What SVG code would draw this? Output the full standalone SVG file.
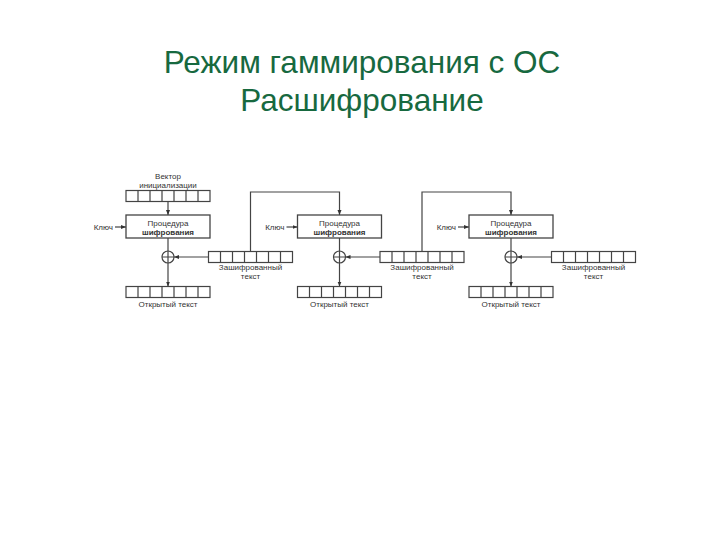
<svg xmlns="http://www.w3.org/2000/svg" xmlns:xlink="http://www.w3.org/1999/xlink" width="720" height="540" viewBox="0 0 720 540">
<style>
.title{font-family:"Liberation Sans",Arial,sans-serif;font-size:31.5px;fill:#17693f;text-anchor:middle}
.lbl{font-family:"Liberation Sans",Arial,sans-serif;font-size:8px;fill:#333;text-anchor:middle}
.bold{font-weight:bold}
.box{fill:#fff;stroke:#444;stroke-width:1.3}
.ln{fill:none;stroke:#444;stroke-width:1.2}
.cell{fill:#fff;stroke:#444;stroke-width:1.2}
</style>
<defs>
<marker id="ah" viewBox="0 0 10 10" refX="10" refY="5" markerWidth="5" markerHeight="5" orient="auto" markerUnits="userSpaceOnUse">
<path d="M0,1 L10,5 L0,9 Z" fill="#333"/>
</marker>
<g id="reg">
<rect class="cell" x="0" y="0" width="84" height="11"/>
<path class="ln" d="M12,0V11M24,0V11M36,0V11M48,0V11M60,0V11M72,0V11"/>
</g>
<g id="xor">
<circle cx="0" cy="0" r="6" fill="#fff" stroke="#444" stroke-width="1.2"/>
<path class="ln" d="M-6,0H6M0,-6V6"/>
</g>
</defs>
<rect width="720" height="540" fill="#fff"/>
<g id="title">
<text class="title" x="362" y="73">Режим гаммирования с ОС</text>
<text class="title" x="362" y="111">Расшифрование</text>
</g>
<g id="connectors">
<line class="ln" x1="168" y1="201.5" x2="168" y2="215" marker-end="url(#ah)"/>
<line class="ln" x1="115" y1="227" x2="126" y2="227" marker-end="url(#ah)"/>
<line class="ln" x1="168" y1="238" x2="168" y2="251"/>
<line class="ln" x1="208.5" y1="257" x2="174" y2="257" marker-end="url(#ah)"/>
<line class="ln" x1="168" y1="263" x2="168" y2="286.5" marker-end="url(#ah)"/>
<path class="ln" d="M250.5,251V192H339.5V215" marker-end="url(#ah)"/>
<line class="ln" x1="286.5" y1="227" x2="297.5" y2="227" marker-end="url(#ah)"/>
<line class="ln" x1="339.5" y1="238" x2="339.5" y2="251"/>
<line class="ln" x1="380" y1="257" x2="345.5" y2="257" marker-end="url(#ah)"/>
<line class="ln" x1="339.5" y1="263" x2="339.5" y2="286.5" marker-end="url(#ah)"/>
<path class="ln" d="M422,251V192H511V215" marker-end="url(#ah)"/>
<line class="ln" x1="458" y1="227" x2="469" y2="227" marker-end="url(#ah)"/>
<line class="ln" x1="511" y1="238" x2="511" y2="251"/>
<line class="ln" x1="551.5" y1="257" x2="517" y2="257" marker-end="url(#ah)"/>
<line class="ln" x1="511" y1="263" x2="511" y2="286.5" marker-end="url(#ah)"/>
</g>
<g id="iv">
<text class="lbl" x="168" y="179">Вектор</text>
<text class="lbl" x="168" y="188">инициализации</text>
<use xlink:href="#reg" x="126" y="190.5"/>
</g>
<g id="key1"><text class="lbl" x="113" y="230" style="text-anchor:end">Ключ</text></g>
<g id="enc1">
<rect class="box" x="126" y="215" width="84" height="23"/>
<text class="lbl" x="168" y="226">Процедура</text>
<text class="lbl bold" x="168" y="235">шифрования</text>
</g>
<g id="xor1"><use xlink:href="#xor" x="168" y="257"/></g>
<g id="ct1">
<use xlink:href="#reg" x="208.5" y="251.5"/>
<text class="lbl" x="250.5" y="270">Зашифрованный</text>
<text class="lbl" x="250.5" y="279">текст</text>
</g>
<g id="pt1">
<use xlink:href="#reg" x="126" y="286.5"/>
<text class="lbl" x="168" y="306.5">Открытый текст</text>
</g>
<g id="key2"><text class="lbl" x="284.5" y="230" style="text-anchor:end">Ключ</text></g>
<g id="enc2">
<rect class="box" x="297.5" y="215" width="84" height="23"/>
<text class="lbl" x="339.5" y="226">Процедура</text>
<text class="lbl bold" x="339.5" y="235">шифрования</text>
</g>
<g id="xor2"><use xlink:href="#xor" x="339.5" y="257"/></g>
<g id="ct2">
<use xlink:href="#reg" x="380" y="251.5"/>
<text class="lbl" x="422" y="270">Зашифрованный</text>
<text class="lbl" x="422" y="279">текст</text>
</g>
<g id="pt2">
<use xlink:href="#reg" x="297.5" y="286.5"/>
<text class="lbl" x="339.5" y="306.5">Открытый текст</text>
</g>
<g id="key3"><text class="lbl" x="456" y="230" style="text-anchor:end">Ключ</text></g>
<g id="enc3">
<rect class="box" x="469" y="215" width="84" height="23"/>
<text class="lbl" x="511" y="226">Процедура</text>
<text class="lbl bold" x="511" y="235">шифрования</text>
</g>
<g id="xor3"><use xlink:href="#xor" x="511" y="257"/></g>
<g id="ct3">
<use xlink:href="#reg" x="551.5" y="251.5"/>
<text class="lbl" x="593.5" y="270">Зашифрованный</text>
<text class="lbl" x="593.5" y="279">текст</text>
</g>
<g id="pt3">
<use xlink:href="#reg" x="469" y="286.5"/>
<text class="lbl" x="511" y="306.5">Открытый текст</text>
</g>
</svg>
